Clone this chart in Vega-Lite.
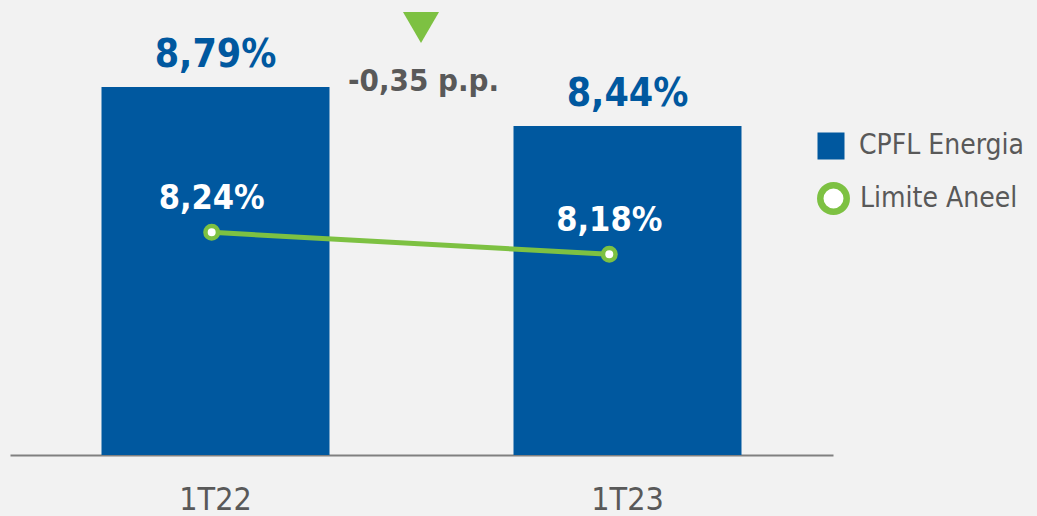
{
  "$schema": "https://vega.github.io/schema/vega-lite/v6.json",
  "width": 823,
  "height": 455,
  "autosize": "none",
  "padding": {"left": 10, "top": 0, "right": 204, "bottom": 61},
  "background": "#F2F2F2",
  "config": {
    "view": {"stroke": null},
    "font": "DejaVu Sans Condensed",
    "axis": {"grid": false}
  },
  "data": {
    "values": [
      {"quarter": "1T22", "cpfl": 8.79, "aneel": 8.24},
      {"quarter": "1T23", "cpfl": 8.44, "aneel": 8.18}
    ]
  },
  "transform": [
    {"calculate": "replace(format(datum.cpfl, '.2f'), '.', ',') + '%'", "as": "cpflLabel"},
    {"calculate": "replace(format(datum.aneel, '.2f'), '.', ',') + '%'", "as": "aneelLabel"}
  ],
  "layer": [
    {
      "encoding": {
        "x": {
          "field": "quarter",
          "type": "nominal",
          "title": null,
          "scale": {"domain": ["1T22", "1T23"], "paddingInner": 0.4466, "paddingOuter": 0.2221},
          "axis": {
            "labelAngle": 0,
            "ticks": false,
            "tickSize": 0,
            "domainColor": "#808080",
            "domainWidth": 2,
            "labelFontSize": 32,
            "labelColor": "#595959",
            "labelPadding": 29,
            "labelFont": "DejaVu Sans Condensed"
          }
        },
        "y": {
          "field": "cpfl",
          "type": "quantitative",
          "scale": {"domain": [5.4875, 9.5707], "zero": false, "nice": false},
          "axis": null
        }
      },
      "layer": [
        {
          "mark": {"type": "bar"},
          "encoding": {
            "y2": {"datum": 5.4875},
            "fill": {
              "datum": "CPFL Energia",
              "type": "nominal",
              "scale": {"domain": ["CPFL Energia"], "range": ["#00589F"]},
              "legend": {
                "orient": "none",
                "legendX": 807,
                "legendY": 132,
                "title": null,
                "padding": 0,
                "symbolType": "square",
                "symbolSize": 729,
                "symbolStrokeWidth": 0,
                "symbolOpacity": 1,
                "labelFontSize": 28,
                "labelColor": "#595959",
                "labelFont": "DejaVu Sans Condensed",
                "labelOffset": 14,
                "labelLimit": 400
              }
            }
          }
        },
        {
          "mark": {"type": "text", "baseline": "alphabetic", "dy": -20, "fontSize": 39, "fontWeight": "bold", "color": "#00589F"},
          "encoding": {"text": {"field": "cpflLabel"}}
        },
        {
          "data": {"values": [{"quarter": "1T22", "cpfl": 8.79, "note": "-0,35 p.p."}]},
          "mark": {"type": "text", "baseline": "alphabetic", "dx": 208, "dy": 4, "fontSize": 31, "fontWeight": "bold", "color": "#595959"},
          "encoding": {"text": {"field": "note"}}
        },
        {
          "data": {"values": [{"quarter": "1T22", "cpfl": 8.79, "note": "-0,35 p.p."}]},
          "mark": {"type": "point", "shape": "triangle-down", "size": 1300, "filled": true, "color": "#7DC142", "opacity": 1, "xOffset": 205.5, "yOffset": -59.5}
        }
      ]
    },
    {
      "encoding": {
        "x": {
          "field": "quarter",
          "type": "nominal",
          "scale": {"type": "point", "domain": ["1T22", "1T23"], "padding": 0.535, "align": 0.4741},
          "axis": null
        },
        "y": {
          "field": "aneel",
          "type": "quantitative",
          "scale": {"domain": [7.6327, 8.8735], "zero": false, "nice": false},
          "axis": null
        }
      },
      "layer": [
        {"mark": {"type": "line", "color": "#7DC142", "strokeWidth": 5}},
        {
          "mark": {"type": "point", "filled": false, "fill": "#FFFFFF", "strokeWidth": 4.5, "size": 156, "opacity": 1, "fillOpacity": 1},
          "encoding": {
            "stroke": {
              "datum": "Limite Aneel",
              "type": "nominal",
              "scale": {"domain": ["Limite Aneel"], "range": ["#7DC142"]},
              "legend": {
                "orient": "none",
                "legendX": 807,
                "legendY": 182,
                "title": null,
                "padding": 0,
                "symbolType": "circle",
                "symbolSize": 700,
                "symbolStrokeWidth": 6.5,
                "symbolFillColor": "#FFFFFF",
                "symbolOpacity": 1,
                "labelFontSize": 28,
                "labelColor": "#595959",
                "labelFont": "DejaVu Sans Condensed",
                "labelOffset": 10,
                "labelLimit": 400
              }
            }
          }
        },
        {
          "mark": {"type": "text", "baseline": "alphabetic", "dy": -23, "fontSize": 34, "fontWeight": "bold", "color": "#FFFFFF"},
          "encoding": {"text": {"field": "aneelLabel"}}
        }
      ]
    }
  ],
  "resolve": {"scale": {"x": "independent", "y": "independent"}}
}
